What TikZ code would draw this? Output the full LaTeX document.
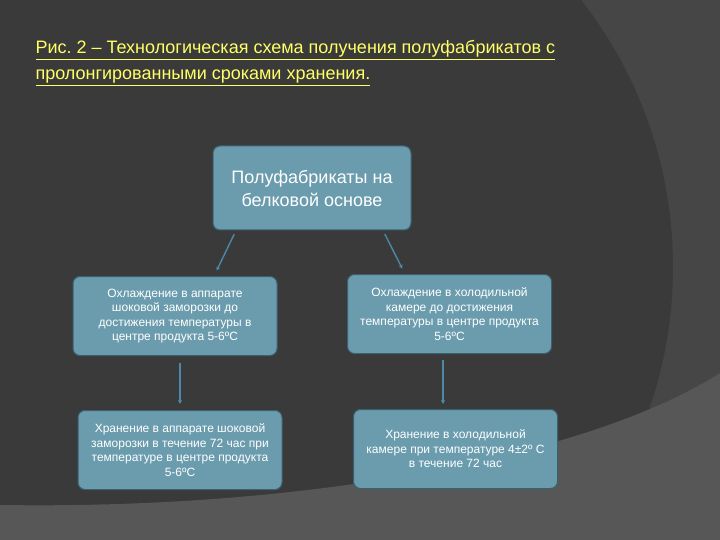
\documentclass[tikz,border=0pt]{standalone}
\usepackage{fontspec}
\setmainfont{Liberation Sans}
\usetikzlibrary{arrows.meta}
\frenchspacing
\definecolor{bg}{HTML}{3A3A3A}
\definecolor{bgmid}{HTML}{464646}
\definecolor{bglow}{HTML}{575757}
\definecolor{boxfill}{HTML}{6A9CAE}
\definecolor{boxline}{HTML}{3B6070}
\definecolor{arrowc}{HTML}{4C88A8}
\definecolor{ttl}{HTML}{FFFF66}

\begin{document}
\begin{tikzpicture}[x=1pt,y=-1pt,
  box/.style={draw=boxline, line width=1pt, fill=boxfill, rounded corners=7pt,
    text=white, align=center, inner sep=0pt},
  small/.style={box, minimum width=204pt, minimum height=79pt,
    font=\fontsize{12}{14.5}\selectfont},
  arr/.style={-{Stealth[length=4pt,width=4pt]}, draw=arrowc, line width=1.4pt}]
\useasboundingbox (0,0) rectangle (720,540);
\begin{scope}
\clip (0,0) rectangle (720,540);
\fill[bgmid] (0,0) rectangle (720,540);
\fill[bg] (239,267) circle (434pt);
\fill[bglow] (0,505) .. controls (330,510) and (600,450) .. (720,373) -- (720,540) -- (0,540) -- cycle;
\end{scope}
\node[anchor=north west, text=ttl, align=left, font=\fontsize{18}{26}\selectfont] (t) at (32,37)
  {\underline{Рис. 2 – Технологическая схема получения полуфабрикатов с}\\
   \underline{пролонгированными сроками хранения.}};
\node[box, minimum width=198pt, minimum height=84pt, font=\fontsize{18}{23}\selectfont] (p) at (312,188)
  {Полуфабрикаты на\\белковой основе};
\node[small] (c1) at (175,316) {Охлаждение в аппарате\\шоковой заморозки до\\достижения температуры в\\центре продукта 5-6ºС};
\node[small] (c2) at (449.5,314) {Охлаждение в холодильной\\камере до достижения\\температуры в центре продукта\\5-6ºС};
\node[small] (s1) at (180,450) {Хранение в аппарате шоковой\\заморозки в течение 72 час при\\температуре в центре продукта\\5-6ºС};
\node[small] (s2) at (455.5,449) {Хранение в холодильной\\камере при температуре 4±2º С\\в течение 72 час};
\draw[arr, shorten <=4pt, shorten >=6pt] ([xshift=-76pt]p.south) -- ([xshift=39pt]c1.north);
\draw[arr, shorten <=4pt, shorten >=6pt] ([xshift=71pt]p.south) -- ([xshift=-44.5pt]c2.north);
\draw[arr, shorten <=7pt, shorten >=6pt] ([xshift=5pt]c1.south) -- (s1.north);
\draw[arr, shorten <=6pt, shorten >=5pt] ([xshift=-6.5pt]c2.south) -- ([xshift=-12.5pt]s2.north);
\end{tikzpicture}
\end{document}
